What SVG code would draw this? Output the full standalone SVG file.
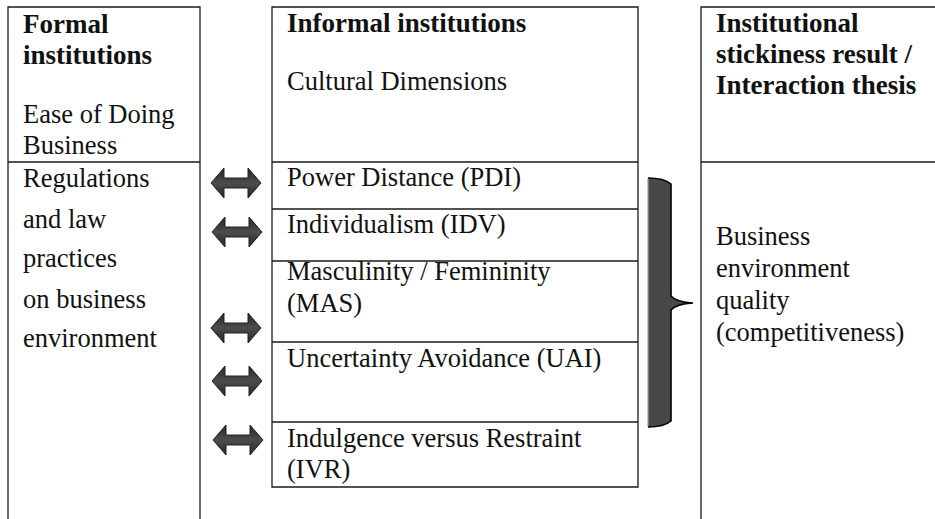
<svg xmlns="http://www.w3.org/2000/svg" width="935" height="519" viewBox="0 0 935 519">
<style>
.ln{stroke:#1a1a1a;stroke-width:1.3;fill:none}
.t{font-family:"Liberation Serif","Times New Roman",serif;font-size:26.5px;fill:#111}
.b{font-family:"Liberation Serif","Times New Roman",serif;font-size:27px;font-weight:bold;fill:#111}
.arr{fill:url(#ag);stroke:#222;stroke-width:1}
</style>
<defs>
<linearGradient id="ag" x1="0" y1="0" x2="0" y2="1">
<stop offset="0" stop-color="#262626"/>
<stop offset="0.5" stop-color="#4c4c4c"/>
<stop offset="1" stop-color="#262626"/>
</linearGradient>
<polygon id="dbl" points="0,15 13,0 13,10 37,10 37,0 50,15 37,30 37,20 13,20 13,30"/>
</defs>
<rect width="935" height="519" fill="#fff"/>

<g id="formal">
<path class="ln" d="M8,519 V7 H200 V519 M8,162 H200"/>
<text class="b" x="23" y="33">Formal</text>
<text class="b" x="23" y="64">institutions</text>
<text class="t" x="23" y="123">Ease of Doing</text>
<text class="t" x="23" y="154">Business</text>
<text class="t" x="23" y="187">Regulations</text>
<text class="t" x="23" y="228">and law</text>
<text class="t" x="23" y="267">practices</text>
<text class="t" x="23" y="308">on business</text>
<text class="t" x="23" y="347">environment</text>
</g>

<g id="informal">
<path class="ln" d="M272,7 H638 V487 H272 Z M272,162 H638"/>
<text class="b" x="287" y="32">Informal institutions</text>
<text class="t" x="287" y="90">Cultural Dimensions</text>
</g>

<g id="pdi">
<path class="ln" d="M272,209 H638"/>
<text class="t" x="287" y="186">Power Distance (PDI)</text>
</g>
<g id="idv">
<path class="ln" d="M272,261 H638"/>
<text class="t" x="287" y="233">Individualism (IDV)</text>
</g>
<g id="mas">
<path class="ln" d="M272,342 H638"/>
<text class="t" x="287" y="280">Masculinity / Femininity</text>
<text class="t" x="287" y="312">(MAS)</text>
</g>
<g id="uai">
<path class="ln" d="M272,422 H638"/>
<text class="t" x="287" y="367">Uncertainty Avoidance (UAI)</text>
</g>
<g id="ivr">
<text class="t" x="287" y="447">Indulgence versus Restraint</text>
<text class="t" x="287" y="478">(IVR)</text>
</g>

<g id="result">
<path class="ln" d="M701,519 V7 H935 M701,162 H935"/>
<text class="b" x="716" y="32">Institutional</text>
<text class="b" x="716" y="63">stickiness result /</text>
<text class="b" x="716" y="94">Interaction thesis</text>
<text class="t" x="716" y="245">Business</text>
<text class="t" x="716" y="277">environment</text>
<text class="t" x="716" y="309">quality</text>
<text class="t" x="716" y="341">(competitiveness)</text>
</g>

<g id="connectors">
<use href="#dbl" class="arr" x="211" y="168"/>
<use href="#dbl" class="arr" x="212" y="217"/>
<use href="#dbl" class="arr" x="211" y="313"/>
<use href="#dbl" class="arr" x="212" y="366"/>
<use href="#dbl" class="arr" x="213" y="425"/>
<path d="M648,178 Q664,178 671,184 L671,296 Q676,302 693,303 Q676,304 671,310 L671,421 Q664,427 648,427 Z" fill="#484848" stroke="none"/>
<path d="M648,178 V427" stroke="#a0a0a0" stroke-width="1.2" fill="none"/>
<path d="M648,178 Q664,178 671,184 L671,296 Q676,302 693,303 Q676,304 671,310 L671,421 Q664,427 648,427" stroke="#000" stroke-width="1.6" fill="none"/>
</g>
</svg>
